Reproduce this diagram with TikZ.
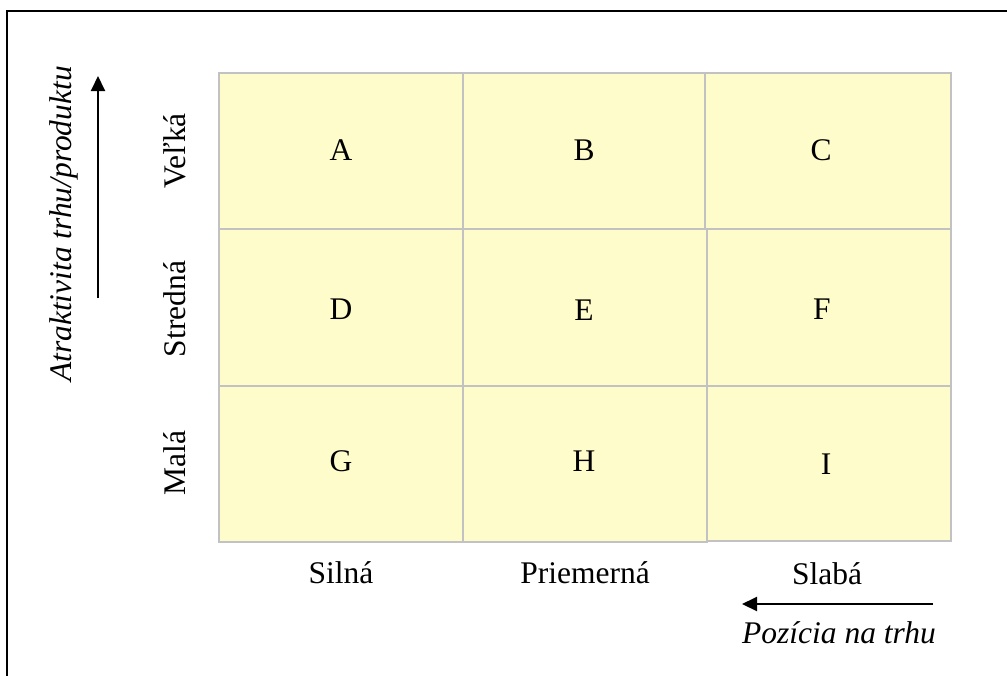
\documentclass[tikz,border=0pt]{standalone}
\usepackage{fontspec}
\setmainfont{Liberation Serif}
\usetikzlibrary{arrows.meta}
\begin{document}
\begin{tikzpicture}[x=1pt,y=-1pt,
  every node/.style={font=\fontsize{31.5pt}{37pt}\selectfont, inner sep=0pt},
  cell/.style={draw=black!24, line width=1.6pt, fill=yellow!20, minimum width=#1, minimum height=156pt},
  cell/.default=244pt,
  letter/.style={anchor=base},
  axisarrow/.style={line width=2pt, -{Triangle[length=15pt,width=14pt]}},
  frame/.style={line width=2pt}]
\useasboundingbox (0,0) rectangle (1007,675);
% frame
\draw[frame] (7,680) -- (7,11) -- (1012,11);
% cells
\node[cell=244pt] (A) at (341,151) {};
\node[cell=242pt] (B) at (584,151) {};
\node[cell=246pt] (C) at (828,151) {};
\node[cell=244pt, minimum height=157pt] (D) at (341,307.5) {};
\node[cell=244pt, minimum height=157pt] (E) at (585,307.5) {};
\node[cell=244pt, minimum height=157pt] (F) at (829,307.5) {};
\node[cell=244pt] (G) at (341,464) {};
\node[cell=244pt] (H) at (585,464) {};
\node[cell=244pt, minimum height=155pt] (I) at (829,463.5) {};
% letters
\node[letter] (la) at (341,160) {A};
\node[letter] (lb) at (584,160) {B};
\node[letter] (lc) at (821,160) {C};
\node[letter] (ld) at (341,319) {D};
\node[letter] (le) at (584,320) {E};
\node[letter] (lf) at (822,319) {F};
\node[letter] (lg) at (341,471) {G};
\node[letter] (lh) at (584,471) {H};
\node[letter] (li) at (826,474) {I};
% row labels
\node[anchor=base, rotate=90] (r1) at (185,151) {Veľká};
\node[anchor=base, rotate=90] (r2) at (185,309) {Stredná};
\node[anchor=base, rotate=90] (r3) at (185,463) {Malá};
% column labels
\node[anchor=base] (c1) at (341,583) {Silná};
\node[anchor=base] (c2) at (585,583) {Priemerná};
\node[anchor=base] (c3) at (827,584) {Slabá};
% axis titles
\node[anchor=base, rotate=90, font=\fontsize{31.5pt}{37pt}\selectfont\itshape] (ty) at (71,224) {Atraktivita trhu/produktu};
\node[anchor=base, font=\fontsize{31.5pt}{37pt}\selectfont\itshape] (tx) at (839,643) {Pozícia na trhu};
% arrows
\coordinate (ys) at (98,298);
\coordinate (ye) at (98,76);
\coordinate (xs) at (933,604);
\coordinate (xe) at (742,604);
\draw[axisarrow] (ys) -- (ye);
\draw[axisarrow] (xs) -- (xe);
\end{tikzpicture}
\end{document}
